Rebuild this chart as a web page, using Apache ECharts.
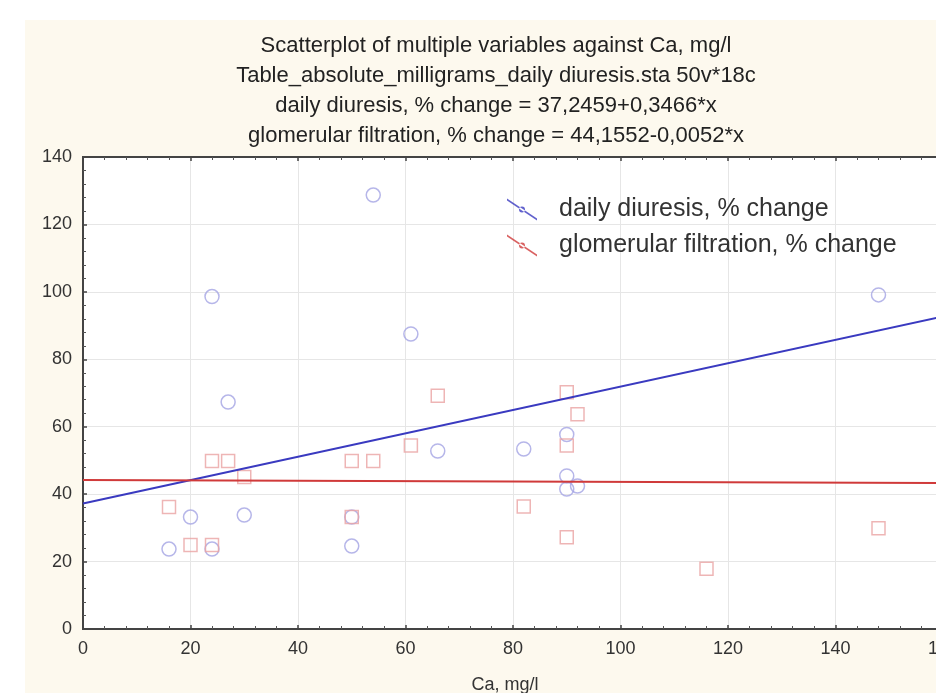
<!DOCTYPE html>
<html>
<head>
<meta charset="utf-8">
<title>Scatterplot of multiple variables against Ca, mg/l</title>
<script src="https://cdn.jsdelivr.net/npm/echarts@6/dist/echarts.min.js"></script>
<style>
  html, body { margin: 0; padding: 0; background: #fff; }
  #main { width: 936px; height: 693px; }
</style>
</head>
<body>
<div id="main"></div>
<script>
// titre (4 lignes)
var titleLines = [
    'Scatterplot of multiple variables against Ca, mg/l',
    'Table_absolute_milligrams_daily diuresis.sta 50v*18c',
    'daily diuresis, % change = 37,2459+0,3466*x',
    'glomerular filtration, % change = 44,1552-0,0052*x'
];
var seriesNames = ['daily diuresis, % change', 'glomerular filtration, % change'];

// daily diuresis (cercles)
var caDaily = [54, 24, 61, 27, 66, 82, 90, 90, 90, 92, 20, 30, 50, 16, 24, 50, 148];
var dailyDiuresis = [128.7, 98.6, 87.5, 67.3, 52.8, 53.4, 57.7, 45.4, 41.5, 42.4, 33.2, 33.8, 33.2, 23.7, 23.7, 24.6, 99.1];

// glomerular filtration (carres)
var caGlom = [16, 20, 24, 24, 27, 30, 50, 54, 50, 66, 61, 90, 92, 90, 82, 90, 116, 148];
var glomFiltration = [36.2, 24.9, 24.9, 49.8, 49.8, 45.1, 49.8, 49.8, 33.2, 69.2, 54.4, 70.2, 63.7, 54.4, 36.3, 27.2, 17.9, 29.9];

// droites de regression, extremites
var fitX = [0, 160];
var dailyFit = [37.2, 92.7];
var glomFit = [44.2, 43.3];

var xTicks = [0, 20, 40, 60, 80, 100, 120, 140, 160];
var yTicks = [0, 20, 40, 60, 80, 100, 120, 140];

function pairs(xs, ys) {
    var out = [];
    for (var i = 0; i < xs.length; i++) { out.push([xs[i], ys[i]]); }
    return out;
}

var font = '"Liberation Sans", Arial, sans-serif';
var blueLine = '#3a3ac0', redLine = '#d03a3a';
var blueMark = '#a4a4e4', redMark = '#eaa2a2';

var chart = echarts.init(document.getElementById('main'));

function axisCommon(ticks) {
    return {
        type: 'value',
        min: ticks[0],
        max: ticks[ticks.length - 1],
        interval: ticks[1] - ticks[0],
        axisLine: { show: true, lineStyle: { color: '#444', width: 2 } },
        axisTick: { show: true, inside: true, length: 4, lineStyle: { color: '#444', width: 1.5 } },
        minorTick: { show: true, splitNumber: 5, length: 3, lineStyle: { color: '#555', width: 1 } },
        splitLine: { show: true, lineStyle: { color: '#e6e6e6', width: 1 } }
    };
}

var xBottom = axisCommon(xTicks);
xBottom.position = 'bottom';
xBottom.axisLabel = { color: '#333', fontSize: 18, fontFamily: font, margin: 11 };

var xTop = axisCommon(xTicks);
xTop.position = 'top';
xTop.axisLabel = { show: false };
xTop.splitLine = { show: false };

var yLeft = axisCommon(yTicks);
yLeft.axisLabel = { color: '#333', fontSize: 18, fontFamily: font, margin: 11 };

var legendIcon = 'path://M0,0 L30,20 L30,22 L0,2 Z M12,11 a3,3 0 1,0 6,0 a3,3 0 1,0 -6,0 Z';

var option = {
    animation: false,
    backgroundColor: '#fff',
    graphic: [
        { type: 'rect', z: -10, shape: { x: 25, y: 20, width: 911, height: 673 }, style: { fill: '#fdf9ee' } },
        {
            type: 'text', z: 10,
            style: {
                text: titleLines.join('\n'), x: 496, y: 31, textAlign: 'center',
                font: '22px ' + font, lineHeight: 30, fill: '#222'
            }
        },
        {
            type: 'text', z: 10,
            style: { text: 'Ca, mg/l', x: 505, y: 676, textAlign: 'center', font: '18px ' + font, fill: '#333' }
        }
    ],
    grid: {
        left: 83, top: 157, width: 860, height: 472,
        outerBoundsMode: 'none',
        show: true, backgroundColor: '#fff', borderColor: '#444', borderWidth: 2
    },
    legend: {
        orient: 'vertical',
        left: 502, top: 192,
        itemWidth: 30, itemHeight: 22, itemGap: 11,
        icon: legendIcon,
        textStyle: { color: '#333', fontSize: 25, fontFamily: font, padding: [0, 0, 0, 17] },
        data: [
            { name: seriesNames[0], itemStyle: { color: blueLine, borderWidth: 0 } },
            { name: seriesNames[1], itemStyle: { color: redLine, borderWidth: 0 } }
        ]
    },
    xAxis: [xBottom, xTop],
    yAxis: [yLeft],
    series: [
        {
            name: seriesNames[0], type: 'scatter', symbol: 'circle', symbolSize: 14,
            itemStyle: { color: 'rgba(255,255,255,0)', borderColor: blueMark, borderWidth: 1.5 },
            data: pairs(caDaily, dailyDiuresis)
        },
        {
            name: seriesNames[1], type: 'scatter', symbol: 'rect', symbolSize: 13,
            itemStyle: { color: 'rgba(255,255,255,0)', borderColor: redMark, borderWidth: 1.5 },
            data: pairs(caGlom, glomFiltration)
        },
        {
            name: 'fit daily', type: 'line', showSymbol: false, silent: true,
            lineStyle: { color: blueLine, width: 2 },
            data: pairs(fitX, dailyFit)
        },
        {
            name: 'fit glom', type: 'line', showSymbol: false, silent: true,
            lineStyle: { color: redLine, width: 2 },
            data: pairs(fitX, glomFit)
        }
    ]
};

chart.setOption(option);
</script>
</body>
</html>
